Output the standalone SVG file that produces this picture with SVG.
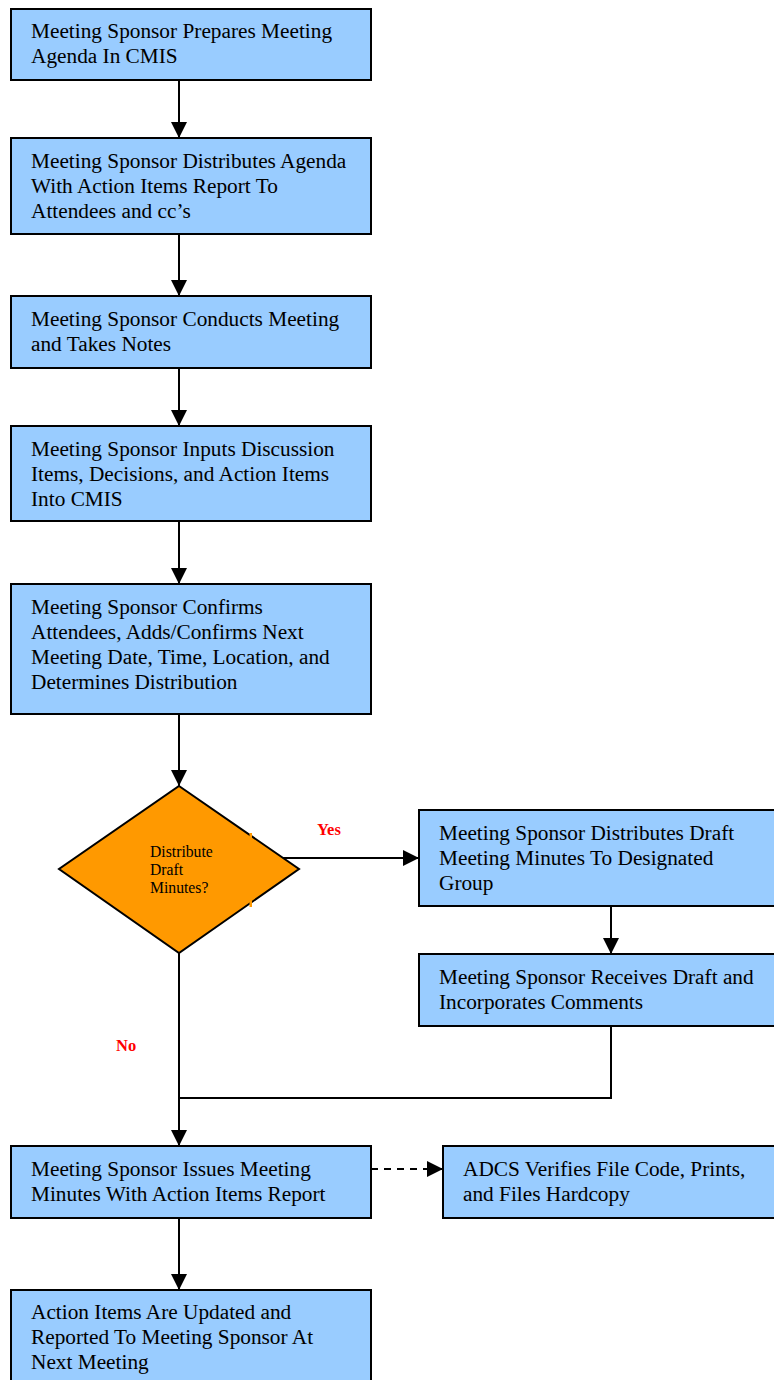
<svg xmlns="http://www.w3.org/2000/svg" width="774" height="1380" viewBox="0 0 774 1380">
<style>
.box{fill:#99ccff;stroke:#000;stroke-width:2}
.dia{fill:#ff9900;stroke:#000;stroke-width:2}
.t{font-family:"Liberation Serif","Times New Roman",serif;font-size:21.3px;fill:#000}
.dt{font-family:"Liberation Serif","Times New Roman",serif;font-size:15.7px;fill:#000}
.lbl{font-family:"Liberation Serif","Times New Roman",serif;font-size:16.5px;font-weight:bold;fill:#ff0000}
.ln{fill:none;stroke:#000;stroke-width:2}
.dash{stroke-dasharray:7,6}
</style>
<defs>
<marker id="ah" markerUnits="userSpaceOnUse" markerWidth="16" markerHeight="16" viewBox="0 0 16 16" refX="16" refY="8" orient="auto">
<path d="M0,0 L16,8 L0,16 Z" fill="#000"/>
</marker>
</defs>
<rect x="0" y="0" width="774" height="1380" fill="#fff"/>
<g id="connectors">
<line class="ln" x1="179" y1="80" x2="179" y2="138" marker-end="url(#ah)"/>
<line class="ln" x1="179" y1="234" x2="179" y2="296" marker-end="url(#ah)"/>
<line class="ln" x1="179" y1="368" x2="179" y2="426" marker-end="url(#ah)"/>
<line class="ln" x1="179" y1="521" x2="179" y2="584" marker-end="url(#ah)"/>
<line class="ln" x1="179" y1="714" x2="179" y2="786" marker-end="url(#ah)"/>
<line class="ln" x1="275" y1="858" x2="419" y2="858" marker-end="url(#ah)"/>
<line class="ln" x1="611" y1="906" x2="611" y2="954" marker-end="url(#ah)"/>
<polyline class="ln" points="611,1026 611,1098 179,1098"/>
<line class="ln" x1="179" y1="953" x2="179" y2="1146" marker-end="url(#ah)"/>
<line class="ln dash" x1="371" y1="1169" x2="443" y2="1169" marker-end="url(#ah)"/>
<line class="ln" x1="179" y1="1218" x2="179" y2="1290" marker-end="url(#ah)"/>
<text class="lbl" x="317" y="835">Yes</text>
<text class="lbl" x="116" y="1051">No</text>
</g>
<g id="n1">
<rect class="box" x="11" y="9" width="360" height="71"/>
<text class="t" x="31" y="38">Meeting Sponsor Prepares Meeting</text>
<text class="t" x="31" y="63">Agenda In CMIS</text>
</g>
<g id="n2">
<rect class="box" x="11" y="138" width="360" height="96"/>
<text class="t" x="31" y="168">Meeting Sponsor Distributes Agenda</text>
<text class="t" x="31" y="193">With Action Items Report To</text>
<text class="t" x="31" y="218">Attendees and cc’s</text>
</g>
<g id="n3">
<rect class="box" x="11" y="296" width="360" height="72"/>
<text class="t" x="31" y="326">Meeting Sponsor Conducts Meeting</text>
<text class="t" x="31" y="351">and Takes Notes</text>
</g>
<g id="n4">
<rect class="box" x="11" y="426" width="360" height="95"/>
<text class="t" x="31" y="456">Meeting Sponsor Inputs Discussion</text>
<text class="t" x="31" y="481">Items, Decisions, and Action Items</text>
<text class="t" x="31" y="506">Into CMIS</text>
</g>
<g id="n5">
<rect class="box" x="11" y="584" width="360" height="130"/>
<text class="t" x="31" y="614">Meeting Sponsor Confirms</text>
<text class="t" x="31" y="639">Attendees, Adds/Confirms Next</text>
<text class="t" x="31" y="664">Meeting Date, Time, Location, and</text>
<text class="t" x="31" y="689">Determines Distribution</text>
</g>
<g id="decision">
<polygon class="dia" points="179,786 299,869 179,953 59,869"/>
<rect x="249.5" y="833" width="2.5" height="7" fill="#ff9900"/>
<rect x="249.5" y="900" width="2.5" height="7" fill="#ff9900"/>
<text class="dt" x="150" y="857">Distribute</text>
<text class="dt" x="150" y="875">Draft</text>
<text class="dt" x="150" y="893">Minutes?</text>
</g>
<g id="n6">
<rect class="box" x="419" y="810" width="362" height="96"/>
<text class="t" x="439" y="840">Meeting Sponsor Distributes Draft</text>
<text class="t" x="439" y="865">Meeting Minutes To Designated</text>
<text class="t" x="439" y="890">Group</text>
</g>
<g id="n7">
<rect class="box" x="419" y="954" width="362" height="72"/>
<text class="t" x="439" y="984">Meeting Sponsor Receives Draft and</text>
<text class="t" x="439" y="1009">Incorporates Comments</text>
</g>
<g id="n8">
<rect class="box" x="11" y="1146" width="360" height="72"/>
<text class="t" x="31" y="1176">Meeting Sponsor Issues Meeting</text>
<text class="t" x="31" y="1201">Minutes With Action Items Report</text>
</g>
<g id="n9">
<rect class="box" x="443" y="1146" width="338" height="72"/>
<text class="t" x="463" y="1176">ADCS Verifies File Code, Prints,</text>
<text class="t" x="463" y="1201">and Files Hardcopy</text>
</g>
<g id="n10">
<rect class="box" x="11" y="1290" width="360" height="100"/>
<text class="t" x="31" y="1319">Action Items Are Updated and</text>
<text class="t" x="31" y="1344">Reported To Meeting Sponsor At</text>
<text class="t" x="31" y="1369">Next Meeting</text>
</g>
</svg>
